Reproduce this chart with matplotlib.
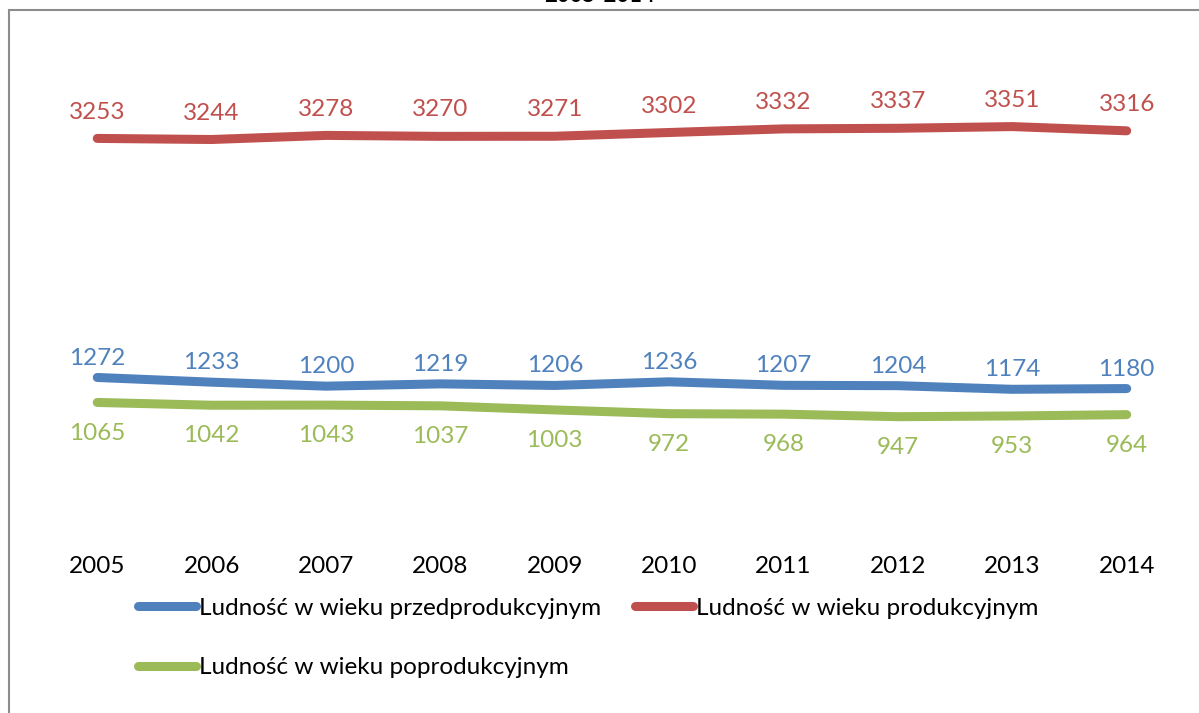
import matplotlib.pyplot as plt
from matplotlib.patches import Rectangle
from matplotlib.lines import Line2D

years = ['2005', '2006', '2007', '2008', '2009', '2010', '2011', '2012', '2013', '2014']
przed = [1272, 1233, 1200, 1219, 1206, 1236, 1207, 1204, 1174, 1180]
prod = [3253, 3244, 3278, 3270, 3271, 3302, 3332, 3337, 3351, 3316]
poprod = [1065, 1042, 1043, 1037, 1003, 972, 968, 947, 953, 964]

names = ['Ludność w wieku przedprodukcyjnym', 'Ludność w wieku produkcyjnym',
         'Ludność w wieku poprodukcyjnym']
colors = ['#4F81BD', '#C0504D', '#9BBB59']

plt.rcParams['font.family'] = ['Lato', 'DejaVu Sans']
fs = 17.5

fig = plt.figure(figsize=(11.99, 7.13), dpi=100)
ax = fig.add_axes([0.0334, 0.2553, 0.954, 0.677])

x = list(range(len(years)))
series = [(przed, colors[0], 14), (prod, colors[1], 19), (poprod, colors[2], -22)]
for vals, c, off in series:
    ax.plot(x, vals, color=c, lw=6.5, solid_capstyle='round', solid_joinstyle='round')
    for xi, v in zip(x, vals):
        ax.annotate(str(v), (xi, v), xytext=(0, off), textcoords='offset points',
                    ha='center', va='center', color=c, fontsize=fs)

ax.set_xlim(-0.5, 9.5)
ax.set_ylim(0, 4000)
ax.set_xticks(x)
ax.set_xticklabels(years, fontsize=fs)
ax.tick_params(axis='x', length=0, pad=18)
ax.set_yticks([])
for s in ax.spines.values():
    s.set_visible(False)

# legend: column-major fill, so order puts red alone in the second column
handles = [Line2D([], [], color=c, lw=6.5, solid_capstyle='round') for c in colors]
order = [0, 2, 1]
fig.legend([handles[i] for i in order], [names[i] for i in order], loc='upper left',
           bbox_to_anchor=(0.115, 0.162), ncol=2, frameon=False, fontsize=fs,
           handlelength=2.4, handletextpad=0.1, columnspacing=1.4, labelspacing=1.6,
           borderaxespad=0, borderpad=0)

# chart border
fig.patches.append(Rectangle((9 / 1199, -0.05), 1.2, 1 - 10 / 713 + 0.05,
                             transform=fig.transFigure, fill=False,
                             edgecolor='#8c8c8c', lw=1.5))

fig.text(0.5, 1.006, '2005-2014', ha='center', va='center', fontsize=16, fontweight='bold')

fig.savefig('out.png', dpi=100)
